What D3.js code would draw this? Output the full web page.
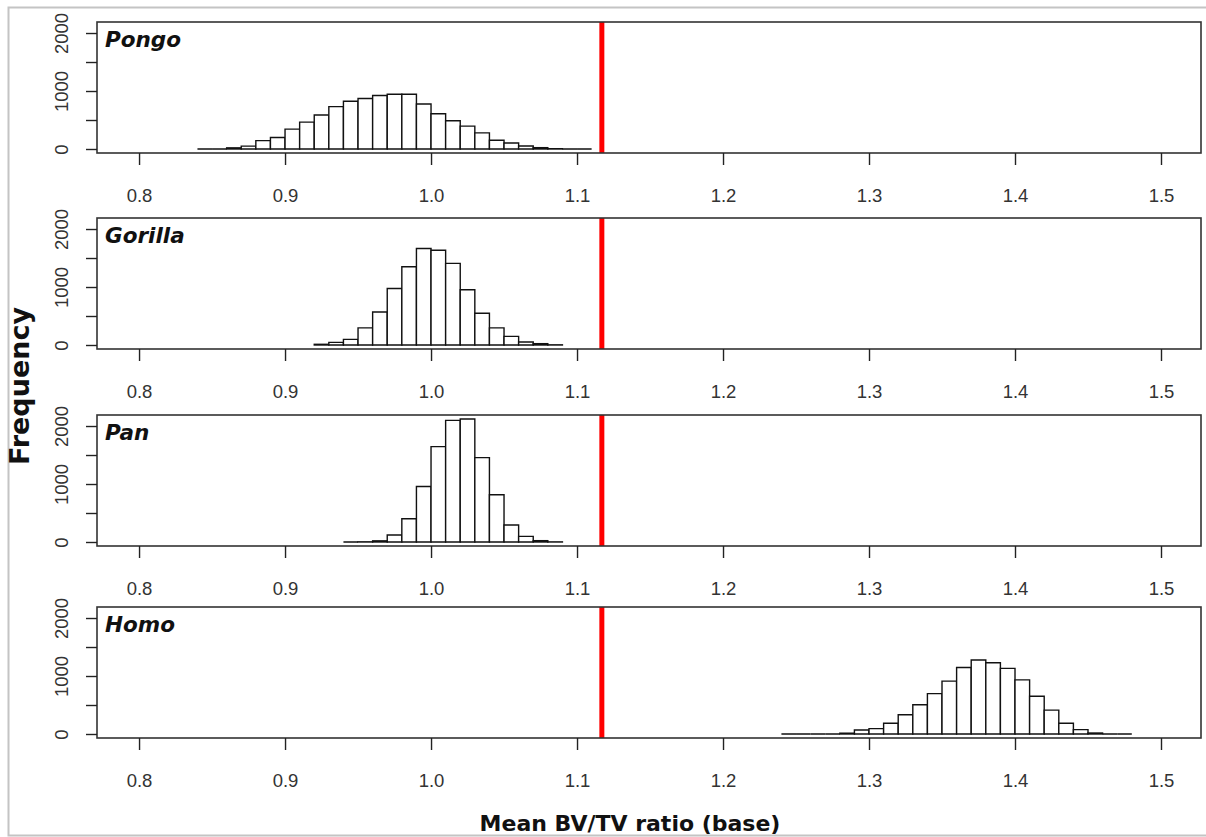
<!DOCTYPE html>
<html>
<head>
<meta charset="utf-8">
<script src="https://cdn.jsdelivr.net/npm/d3@7"></script>
<style>
  body { margin: 0; background: #fff; }
  .tick-label { font-family: "Liberation Sans", Arial, sans-serif; font-size: 18.5px; fill: #333; }
  .title { font-family: "DejaVu Sans", Verdana, sans-serif; font-weight: bold; fill: #111; }
  .genus { font-family: "DejaVu Sans", Verdana, sans-serif; font-weight: bold; font-style: italic; font-size: 21.5px; fill: #111; }
</style>
</head>
<body>
<div class="chart"></div>
<script>
// histogram data: counts per 0.01 bin, starting at the given left edge
const binWidth = 0.01;
const genera = ['Pongo', 'Gorilla', 'Pan', 'Homo'];
const binStarts = [0.84, 0.92, 0.94, 1.24];
const pongoCounts = [0, 0, 20, 50, 145, 197, 342, 464, 586, 730, 823, 870, 922, 945, 945, 777, 609, 487, 394, 278, 151, 104, 52, 23, 5, 0, 0];
const gorillaCounts = [12, 46, 97, 296, 570, 975, 1350, 1664, 1635, 1407, 952, 547, 296, 148, 51, 23, 3];
const panCounts = [0, 3, 20, 120, 401, 957, 1645, 2097, 2120, 1455, 814, 292, 97, 23, 2];
const homoCounts = [0, 0, 0, 0, 14, 70, 93, 186, 331, 505, 696, 911, 1148, 1276, 1229, 1131, 934, 650, 412, 186, 75, 17, 0, 0];
const allCounts = [pongoCounts, gorillaCounts, panCounts, homoCounts];

const xTicks = [0.8, 0.9, 1.0, 1.1, 1.2, 1.3, 1.4, 1.5];
const yTicks = [0, 500, 1000, 1500, 2000];
const yLabels = [0, 1000, 2000];
const observedRatio = 1.117;  // red line

const W = 1206, H = 837;
const panelTops = [22, 218, 415, 607];
const panelH = 131;
const left = 97, right = 1201;

let svg = d3.select('.chart').append('svg')
	.attr('width', W)
	.attr('height', H);

// outer frame of the screenshot
svg.append('path')
	.attr('d', 'M1210,7.5 H8.5 V835.5 H1210')
	.attr('fill', 'none')
	.attr('stroke', '#c4c4c4')
	.attr('stroke-width', 2);

let x = d3.scaleLinear().domain([0.7712, 1.5274]).range([left, right]);
let y = d3.scaleLinear().domain([-69, 2190]).range([panelH, 0]);

genera.forEach(function (name, p) {
	let g = svg.append('g').attr('transform', 'translate(0,' + panelTops[p] + ')');
	let counts = allCounts[p];
	let bins = counts.map(function (c, i) {
		let x0 = +(binStarts[p] + i * binWidth).toFixed(3);
		return { x0: x0, x1: +(x0 + binWidth).toFixed(3), n: c };
	});

	g.append('clipPath').attr('id', 'clip' + p)
		.append('rect').attr('x', left).attr('y', 0).attr('width', right - left).attr('height', panelH);

	// bars as closed paths so zero-count bins still show as a flat line, like R's hist
	g.selectAll('path.bar')
		.data(bins)
		.enter().append('path')
		.attr('class', 'bar')
		.attr('d', function (d) {
			return 'M' + x(d.x0) + ',' + y(0) + 'V' + y(d.n) + 'H' + x(d.x1) + 'V' + y(0) + 'Z';
		})
		.attr('fill', 'white')
		.attr('stroke', '#111')
		.attr('stroke-width', 1.4);

	// observed value
	g.append('line')
		.attr('clip-path', 'url(#clip' + p + ')')
		.attr('x1', x(observedRatio)).attr('x2', x(observedRatio))
		.attr('y1', 0).attr('y2', panelH)
		.attr('stroke', '#ff0000')
		.attr('stroke-width', 5);

	// box
	g.append('rect')
		.attr('x', left).attr('y', 0)
		.attr('width', right - left).attr('height', panelH)
		.attr('fill', 'none')
		.attr('stroke', '#333')
		.attr('stroke-width', 1.6);

	// x axis
	let xAxis = d3.axisBottom(x).tickValues(xTicks).tickSize(12).tickFormat(d3.format('.1f'));
	let gx = g.append('g').attr('transform', 'translate(0,' + panelH + ')').call(xAxis);
	gx.select('.domain').remove();
	gx.selectAll('.tick line').attr('stroke', '#222').attr('stroke-width', 1.4);
	gx.selectAll('.tick text')
		.attr('class', 'tick-label')
		.attr('font-size', null).attr('font-family', null).attr('fill', null)
		.attr('dy', null)
		.attr('y', 49);

	// y axis
	let yAxis = d3.axisLeft(y).tickValues(yTicks).tickSize(11)
		.tickFormat(function (d) { return yLabels.indexOf(d) >= 0 ? d : '' });
	let gy = g.append('g').attr('transform', 'translate(' + left + ',0)').call(yAxis);
	gy.select('.domain').remove();
	gy.selectAll('.tick line').attr('stroke', '#222').attr('stroke-width', 1.4);
	gy.selectAll('.tick text')
		.attr('class', 'tick-label')
		.attr('font-size', null).attr('font-family', null).attr('fill', null)
		.attr('x', null).attr('dy', null)
		.attr('text-anchor', 'middle')
		.attr('transform', 'translate(-29,0) rotate(-90)');

	g.append('text')
		.attr('class', 'genus')
		.attr('x', 105).attr('y', 25)
		.text(name);
});

svg.append('text')
	.attr('class', 'title')
	.attr('font-size', 22)
	.attr('text-anchor', 'middle')
	.attr('x', 630).attr('y', 831)
	.text('Mean BV/TV ratio (base)');

svg.append('text')
	.attr('class', 'title')
	.attr('font-size', 27)
	.attr('text-anchor', 'middle')
	.attr('transform', 'translate(29,386) rotate(-90)')
	.text('Frequency');
</script>
</body>
</html>
